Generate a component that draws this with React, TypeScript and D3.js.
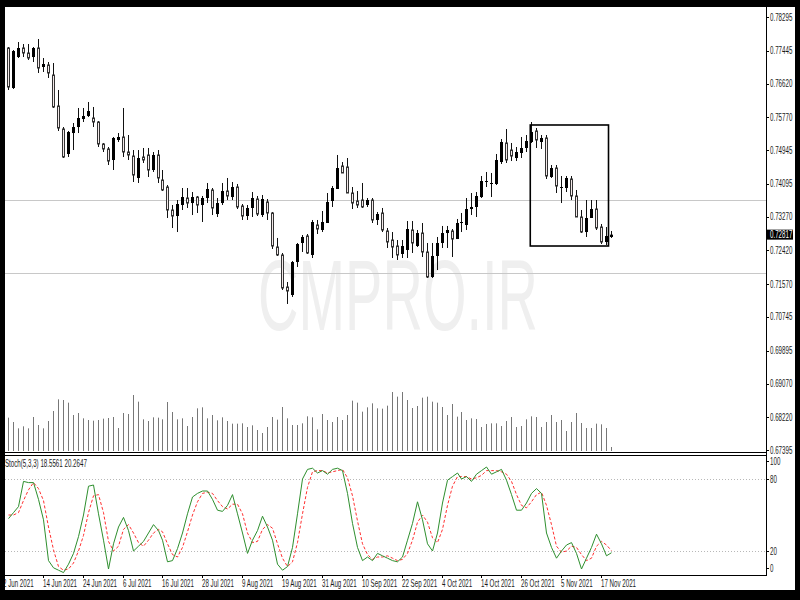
import * as d3 from "d3";

// OHLC, one entry per daily bar (3 Jun 2021 .. 22 Nov 2021)
const opens = [
  0.77515, 0.76508, 0.77288, 0.77515, 0.77389, 0.77288, 0.77515, 0.77037, 0.77087, 0.76835,
  0.76055, 0.75476, 0.74847, 0.75375, 0.75526, 0.75728, 0.75803, 0.75753, 0.75652, 0.75099,
  0.74973, 0.74696, 0.75199, 0.75275, 0.74897, 0.74796, 0.74243, 0.74771, 0.74822, 0.74444,
  0.74822, 0.74192, 0.74016, 0.73437, 0.73286, 0.73563, 0.73739, 0.73613, 0.73764, 0.73563,
  0.73739, 0.73941, 0.73336, 0.73613, 0.73915, 0.73764, 0.74016, 0.73538, 0.73286, 0.73488,
  0.73714, 0.73311, 0.73639, 0.73362, 0.72506, 0.72305, 0.71499, 0.71298, 0.72128, 0.72607,
  0.72783, 0.72305, 0.7306, 0.72934, 0.7311, 0.73664, 0.73966, 0.74545, 0.7452, 0.73865,
  0.73664, 0.73689, 0.73563, 0.73689, 0.73186, 0.73362, 0.72909, 0.72682, 0.72531, 0.7233,
  0.72431, 0.72934, 0.72531, 0.72858, 0.7238, 0.71751, 0.7228, 0.72607, 0.72858, 0.72909,
  0.72707, 0.7311, 0.7306, 0.73462, 0.73513, 0.73764, 0.74142, 0.74092, 0.74092, 0.74645,
  0.75124, 0.74947, 0.74746, 0.74872, 0.74998, 0.75149, 0.75426, 0.75149, 0.7525, 0.74268,
  0.74494, 0.73991, 0.73991, 0.74218, 0.7379, 0.73261, 0.72883, 0.73236, 0.73462, 0.73009,
  0.72632, 0.72758,
];
const highs = [
  0.7754, 0.77464, 0.77666, 0.77615, 0.77615, 0.7754, 0.77741, 0.77263, 0.77162, 0.77137,
  0.76458, 0.75526, 0.75426, 0.75627, 0.76005, 0.76005, 0.76156, 0.7603, 0.75677, 0.75124,
  0.75023, 0.75275, 0.75375, 0.76005, 0.75325, 0.74947, 0.74947, 0.74998, 0.74998, 0.74897,
  0.74947, 0.74444, 0.74066, 0.73563, 0.73689, 0.73991, 0.73991, 0.7389, 0.7379, 0.7379,
  0.74117, 0.73991, 0.73739, 0.74117, 0.74243, 0.74142, 0.74092, 0.73588, 0.73563, 0.7389,
  0.7379, 0.73815, 0.73714, 0.73387, 0.72733, 0.72355, 0.71625, 0.72154, 0.72607, 0.72808,
  0.72833, 0.73186, 0.73186, 0.73412, 0.73865, 0.74041, 0.74822, 0.74645, 0.74746, 0.74016,
  0.73915, 0.74117, 0.73739, 0.73739, 0.73387, 0.73488, 0.72984, 0.72883, 0.72682, 0.72682,
  0.7316, 0.7316, 0.72934, 0.7311, 0.72607, 0.72607, 0.72758, 0.73035, 0.73035, 0.72959,
  0.73211, 0.73362, 0.73739, 0.73865, 0.7389, 0.74293, 0.74394, 0.74369, 0.74847, 0.75224,
  0.75476, 0.75124, 0.75023, 0.75275, 0.75325, 0.75652, 0.75501, 0.75325, 0.75325, 0.7457,
  0.7457, 0.74293, 0.74293, 0.74293, 0.73941, 0.73437, 0.73689, 0.73689, 0.73689, 0.73085,
  0.73009, 0.72909,
];
const lows = [
  0.76458, 0.76483, 0.77263, 0.77288, 0.77213, 0.77162, 0.76886, 0.76911, 0.7676, 0.76005,
  0.75426, 0.74746, 0.74771, 0.74947, 0.75375, 0.75652, 0.75778, 0.75526, 0.75023, 0.74897,
  0.7457, 0.74444, 0.75149, 0.74771, 0.74696, 0.74142, 0.74117, 0.7462, 0.74268, 0.74394,
  0.74117, 0.73915, 0.73236, 0.72984, 0.72883, 0.73437, 0.73488, 0.73311, 0.73362, 0.73135,
  0.73613, 0.73311, 0.73261, 0.73563, 0.73689, 0.73689, 0.73462, 0.73186, 0.73186, 0.73261,
  0.73286, 0.73261, 0.73186, 0.72456, 0.7228, 0.71424, 0.71072, 0.71248, 0.72003, 0.7238,
  0.7233, 0.72229, 0.72833, 0.72883, 0.7311, 0.73513, 0.73966, 0.74369, 0.73865, 0.73462,
  0.73488, 0.73488, 0.73513, 0.7311, 0.7306, 0.72883, 0.72481, 0.72229, 0.72179, 0.72229,
  0.72229, 0.72355, 0.72506, 0.72254, 0.71726, 0.71726, 0.71927, 0.72481, 0.72481, 0.72254,
  0.72707, 0.72883, 0.72934, 0.73311, 0.73261, 0.73739, 0.74016, 0.73764, 0.74066, 0.74595,
  0.7462, 0.7467, 0.7467, 0.74746, 0.74897, 0.75124, 0.74998, 0.74973, 0.74218, 0.74243,
  0.73865, 0.73613, 0.7389, 0.73689, 0.73261, 0.72858, 0.72758, 0.73236, 0.72934, 0.72581,
  0.72556, 0.72733,
];
const closes = [
  0.76533, 0.77439, 0.77515, 0.77389, 0.77263, 0.77515, 0.77011, 0.77112, 0.76886, 0.7603,
  0.75501, 0.74771, 0.75401, 0.75526, 0.75753, 0.75803, 0.75929, 0.75652, 0.75099, 0.74973,
  0.7467, 0.7525, 0.75275, 0.74897, 0.74822, 0.74318, 0.74746, 0.74696, 0.74444, 0.74822,
  0.74243, 0.73941, 0.73437, 0.73286, 0.73588, 0.73764, 0.73613, 0.73764, 0.73563, 0.73739,
  0.73966, 0.73488, 0.73613, 0.73915, 0.7379, 0.74016, 0.73513, 0.73286, 0.73488, 0.73739,
  0.73336, 0.73714, 0.73362, 0.72531, 0.72305, 0.71474, 0.71399, 0.72128, 0.72581, 0.72758,
  0.72355, 0.73135, 0.72959, 0.73135, 0.73639, 0.73991, 0.74494, 0.74369, 0.73865, 0.73613,
  0.73563, 0.73513, 0.73689, 0.73186, 0.73336, 0.72934, 0.72632, 0.72506, 0.72305, 0.72531,
  0.72959, 0.72607, 0.72858, 0.7238, 0.71751, 0.7228, 0.72607, 0.72858, 0.72934, 0.72707,
  0.7311, 0.73135, 0.73462, 0.73513, 0.7379, 0.74167, 0.74167, 0.74117, 0.74696, 0.75149,
  0.74696, 0.74796, 0.74897, 0.74998, 0.75174, 0.75401, 0.75199, 0.7525, 0.74293, 0.74494,
  0.74041, 0.74016, 0.74243, 0.7379, 0.73261, 0.72883, 0.73236, 0.73462, 0.72984, 0.72632,
  0.72783, 0.72817,
];
// tick volume (hundreds)
const volumes = [
  100, 87, 68, 74, 68, 102, 78, 68, 90, 120, 155, 153, 145, 108, 114, 98, 93, 91, 93, 97,
  99, 102, 69, 114, 111, 168, 148, 95, 90, 101, 100, 95, 147, 117, 95, 98, 75, 102, 128, 131,
  98, 108, 92, 101, 90, 82, 82, 83, 72, 77, 63, 54, 72, 102, 94, 132, 98, 78, 78, 83,
  104, 101, 65, 111, 93, 87, 102, 93, 108, 151, 145, 118, 131, 143, 128, 127, 136, 177, 163, 177,
  153, 129, 135, 160, 163, 148, 145, 132, 108, 141, 103, 117, 93, 98, 96, 72, 81, 83, 83, 75,
  90, 102, 72, 75, 95, 104, 102, 72, 87, 108, 87, 93, 60, 87, 114, 84, 69, 69, 82, 80,
  69, 12,
];
// Stochastic(5,3,3): main %K and signal %D
const stochK = [
  47, 52, 57, 78, 77, 77, 63, 46, 12, 6, 4, 2, 9, 18, 32, 50, 74, 75, 51, 29,
  5, 26, 40, 48, 37, 20, 24, 28, 35, 42, 37, 29, 11, 12, 22, 35, 51, 65, 68, 70,
  70, 63, 54, 53, 58, 67, 51, 35, 18, 29, 37, 49, 40, 29, 9, 4, 7, 23, 51, 80,
  88, 89, 85, 87, 84, 88, 89, 87, 68, 43, 23, 12, 15, 12, 18, 16, 14, 12, 11, 15,
  29, 43, 61, 46, 26, 20, 35, 60, 79, 82, 85, 80, 82, 78, 84, 87, 90, 84, 86, 88,
  79, 67, 54, 54, 60, 68, 72, 68, 35, 23, 14, 20, 25, 27, 18, 5, 14, 23, 34, 26,
  16, 18.5561,
];
const stochD = [
  50, 50, 52, 62, 71, 77, 72, 62, 40, 21, 7, 4, 5, 10, 20, 33, 52, 66, 67, 52,
  28, 20, 24, 38, 42, 35, 27, 24, 29, 35, 38, 36, 26, 17, 15, 23, 36, 50, 61, 68,
  69, 68, 62, 57, 55, 59, 59, 51, 35, 27, 28, 38, 42, 39, 26, 14, 7, 11, 27, 51,
  73, 86, 87, 87, 85, 86, 87, 88, 81, 66, 45, 26, 17, 13, 15, 15, 16, 14, 12, 13,
  18, 29, 44, 50, 44, 31, 27, 38, 58, 74, 82, 82, 82, 80, 81, 83, 87, 87, 87, 86,
  84, 78, 67, 58, 56, 61, 67, 69, 58, 42, 24, 19, 20, 24, 23, 17, 12, 14, 24, 28,
  25, 20.2647,
];

const priceTicks = [0.78295, 0.77445, 0.7662, 0.7577, 0.74945, 0.74095, 0.7327, 0.7242, 0.7157, 0.70745, 0.69895, 0.6907, 0.6822, 0.67395];
const stochTicks = [100, 80, 20, 0];
const stochLevels = [80, 20];
const priceLevels = [0.73689, 0.71852];
const dateTickBars = [-1, 7, 15, 23, 31, 39, 47, 55, 63, 71, 79, 87, 95, 103, 111, 119];
const dateTickLabels = ["2 Jun 2021", "14 Jun 2021", "24 Jun 2021", "6 Jul 2021", "16 Jul 2021", "28 Jul 2021", "9 Aug 2021", "19 Aug 2021", "31 Aug 2021", "10 Sep 2021", "22 Sep 2021", "4 Oct 2021", "14 Oct 2021", "26 Oct 2021", "5 Nov 2021", "17 Nov 2021"];
const lastPrice = 0.72817;
const boxBars = [104.8, 120.5];
const boxPrices = [0.75577, 0.72531];

const FONT = "'Liberation Sans', Arial, sans-serif";

const T = ({ x, y, children, fill = "#1a1a1a", size = 10 }: any) => (
  <text transform={`translate(${x},${y}) scale(0.62,1)`} fontSize={size} fontFamily={FONT} fill={fill}>
    {children}
  </text>
);

export default function App() {
  const plotL = 5, plotR = 766;
  const mainTop = 7, mainBot = 452;
  const stTop = 455, stBot = 575;

  const x = d3.scaleLinear().domain([0, 121]).range([8, 611]);
  const y = d3.scaleLinear().domain([0.67346, 0.78547]).range([mainBot, mainTop]);
  const yVol = d3.scaleLinear().domain([0, 177]).range([451, 392]);
  const yS = d3.scaleLinear().domain([0, 100]).range([stBot, stTop]);

  const px = (i: number) => Math.round(x(i));

  const kLine = d3.line<number>().x((_, i) => px(i) + 0.5).y(d => yS(d));
  const dLine = d3.line<number>().x((_, i) => px(i) + 0.5).y(d => yS(d));

  // axis labels for 100 / 0 are pushed inside the pane, as the terminal does
  const stLabelY = (s: number) => Math.min(568, Math.max(461, yS(s)));

  return (
    <svg width={800} height={600} style={{ position: "absolute", left: 0, top: 0 }}>
      <defs>
        <clipPath id="mainClip"><rect x={plotL} y={mainTop} width={plotR - plotL} height={mainBot - mainTop} /></clipPath>
        <clipPath id="stClip"><rect x={plotL} y={stTop} width={plotR - plotL} height={stBot - stTop} /></clipPath>
      </defs>
      <rect x={0} y={0} width={800} height={600} fill="#fff" />

      {/* main pane */}
      <g clipPath="url(#mainClip)">
        <text x={258} y={330} fontSize={100} fontFamily={FONT} fill="#efefef" textLength={280} lengthAdjust="spacingAndGlyphs">CMPRO.IR</text>
        {priceLevels.map((p, k) => (
          <line key={k} x1={plotL} x2={plotR} y1={Math.round(y(p)) + 0.5} y2={Math.round(y(p)) + 0.5} stroke="#c8c8c8" />
        ))}
        {volumes.map((v, i) => (
          <line key={i} x1={px(i) + 0.5} x2={px(i) + 0.5} y1={yVol(0)} y2={yVol(v)} stroke="#777" />
        ))}
        {opens.map((o, i) => {
          const c = closes[i];
          const up = c > o;
          const cx = px(i);
          const top = y(Math.max(o, c)), bot = y(Math.min(o, c));
          return (
            <g key={i}>
              <line x1={cx + 0.5} x2={cx + 0.5} y1={y(highs[i])} y2={y(lows[i])} stroke="#111" />
              {up ? (
                <rect x={cx - 1} y={top} width={3} height={Math.max(1, bot - top)} fill="#000" />
              ) : (
                <rect x={cx - 0.5} y={top} width={2} height={Math.max(1, bot - top)} fill="#f3e9e9" stroke="#333" />
              )}
            </g>
          );
        })}
        <rect x={x(boxBars[0])} y={y(boxPrices[0])} width={x(boxBars[1]) - x(boxBars[0])} height={y(boxPrices[1]) - y(boxPrices[0])}
          fill="none" stroke="#000" strokeWidth={1.6} />
      </g>

      {/* stochastic pane */}
      <g clipPath="url(#stClip)">
        {stochLevels.map((l, k) => (
          <line key={k} x1={plotL} x2={plotR} y1={Math.round(yS(l)) + 0.5} y2={Math.round(yS(l)) + 0.5} stroke="#b8b8b8" strokeDasharray="1,2" />
        ))}
        <path d={dLine(stochD) ?? ""} fill="none" stroke="#ff3030" strokeDasharray="3,2" />
        <path d={kLine(stochK) ?? ""} fill="none" stroke="#2e8f2e" />
      </g>
      <T x={5} y={467}>{`Stoch(5,3,3) ${stochK[stochK.length - 1].toFixed(4)} ${stochD[stochD.length - 1].toFixed(4)}`}</T>

      {/* frame lines */}
      <line x1={plotR + 0.5} x2={plotR + 0.5} y1={mainTop} y2={stBot + 0.5} stroke="#000" />
      <line x1={plotL} x2={plotR} y1={mainBot + 0.5} y2={mainBot + 0.5} stroke="#000" />
      <line x1={plotL} x2={plotR} y1={stTop + 0.5} y2={stTop + 0.5} stroke="#000" />
      <line x1={plotL} x2={plotR + 1} y1={stBot + 0.5} y2={stBot + 0.5} stroke="#000" />

      {/* price axis */}
      {priceTicks.map((p, k) => (
        <g key={k}>
          <line x1={plotR} x2={plotR + 3} y1={Math.round(y(p)) + 0.5} y2={Math.round(y(p)) + 0.5} stroke="#000" />
          <T x={770} y={y(p) + 3.5}>{p.toFixed(5)}</T>
        </g>
      ))}
      <rect x={767} y={y(lastPrice) - 5} width={26} height={10} fill="#000" />
      <T x={770} y={y(lastPrice) + 3.5} fill="#fff">{lastPrice.toFixed(5)}</T>

      {/* stochastic axis */}
      {stochTicks.map((s, k) => (
        <g key={k}>
          <line x1={plotR} x2={plotR + 3} y1={Math.round(stLabelY(s)) + 0.5} y2={Math.round(stLabelY(s)) + 0.5} stroke="#000" />
          <T x={770} y={stLabelY(s) + 3.5}>{s}</T>
        </g>
      ))}

      {/* date axis */}
      {dateTickBars.map((b, k) => (
        <g key={k}>
          <line x1={px(b) + 0.5} x2={px(b) + 0.5} y1={stBot} y2={stBot + 3} stroke="#000" />
          <T x={px(b)} y={587}>{dateTickLabels[k]}</T>
        </g>
      ))}

      {/* outer black frame */}
      <rect x={0} y={0} width={800} height={7} fill="#000" />
      <rect x={0} y={0} width={5} height={600} fill="#000" />
      <rect x={795} y={0} width={5} height={600} fill="#000" />
      <rect x={0} y={590} width={800} height={10} fill="#000" />
    </svg>
  );
}
